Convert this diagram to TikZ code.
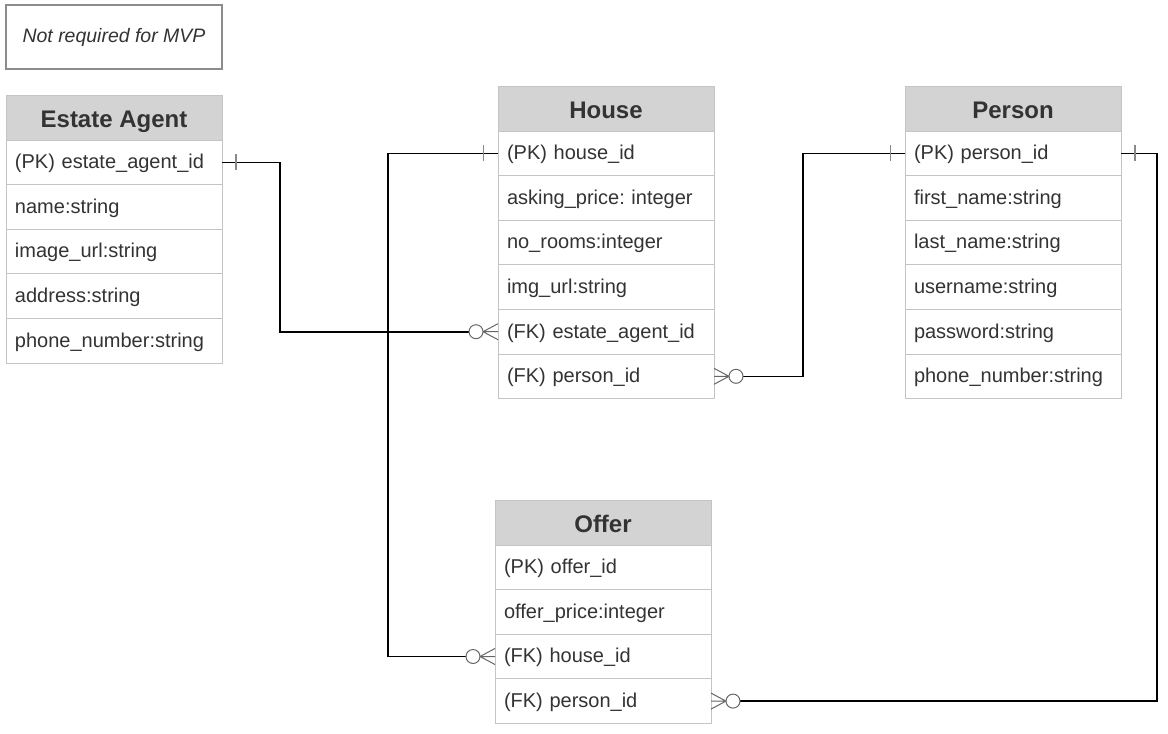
\documentclass[tikz,border=0pt]{standalone}
\usepackage{fontspec}
\setmainfont{Liberation Sans}
\frenchspacing
\definecolor{txt}{HTML}{333333}
\definecolor{hdrfill}{HTML}{D3D3D3}
\definecolor{bdr}{HTML}{C4C4C4}
\definecolor{notebdr}{HTML}{8C8C8C}
\definecolor{footc}{HTML}{666666}
\definecolor{tickc}{HTML}{888888}
\begin{document}
\begin{tikzpicture}[x=0.75pt,y=-0.75pt,
  every node/.style={outer sep=0pt},
  hdr/.style={draw=bdr, fill=hdrfill, line width=0.75pt, minimum width=162pt, minimum height=33.75pt, anchor=north west, font=\fontsize{18}{21}\selectfont\bfseries, text=txt, inner sep=0pt, text height=15pt, text depth=0.6pt},
  row/.style={draw=bdr, fill=white, line width=0.75pt, text width=148.5pt, inner xsep=6.75pt, inner ysep=0pt, minimum height=33.45pt, anchor=north, align=left, font=\fontsize{15}{18}\selectfont, text=txt, text height=11.75pt, text depth=2.25pt},
  note/.style={draw=notebdr, line width=1pt, minimum width=162pt, minimum height=48pt, font=\fontsize{14.6}{18}\selectfont\itshape, text=txt, inner sep=0pt},
  conn/.style={draw=black, line width=1.2pt},
  tickst/.style={draw=tickc, line width=1.1pt},
  foot/.style={draw=footc, line width=0.75pt},
  crowW/.pic={\draw[foot] (-15,0) -- (0,-8) (-15,0) -- (0,0) (-15,0) -- (0,8); \draw[foot] (-22,0) circle[radius=7];},
  crowE/.pic={\draw[foot] (15,0) -- (0,-8) (15,0) -- (0,0) (15,0) -- (0,8); \draw[foot] (22,0) circle[radius=7];}
]
\useasboundingbox (0,0) rectangle (1168,733);

\node[note] (note) at (114,37) {Not required for MVP};

% Estate Agent
\node[hdr] (ea) at (6,95) {Estate Agent};
\node[row] (ea1) at (ea.south) {(PK) estate\_agent\_id};
\node[row] (ea2) at (ea1.south) {name:string};
\node[row] (ea3) at (ea2.south) {image\_url:string};
\node[row] (ea4) at (ea3.south) {address:string};
\node[row] (ea5) at (ea4.south) {phone\_number:string};

% House
\node[hdr] (h) at (498,86) {House};
\node[row] (h1) at (h.south) {(PK) house\_id};
\node[row] (h2) at (h1.south) {asking\_price: integer};
\node[row] (h3) at (h2.south) {no\_rooms:integer};
\node[row] (h4) at (h3.south) {img\_url:string};
\node[row] (h5) at (h4.south) {(FK) estate\_agent\_id};
\node[row] (h6) at (h5.south) {(FK) person\_id};

% Person
\node[hdr] (p) at (905,86) {Person};
\node[row] (p1) at (p.south) {(PK) person\_id};
\node[row] (p2) at (p1.south) {first\_name:string};
\node[row] (p3) at (p2.south) {last\_name:string};
\node[row] (p4) at (p3.south) {username:string};
\node[row] (p5) at (p4.south) {password:string};
\node[row] (p6) at (p5.south) {phone\_number:string};

% Offer
\node[hdr] (o) at (495,500) {Offer};
\node[row] (o1) at (o.south) {(PK) offer\_id};
\node[row] (o2) at (o1.south) {offer\_price:integer};
\node[row] (o3) at (o2.south) {(FK) house\_id};
\node[row] (o4) at (o3.south) {(FK) person\_id};

% connectors
\draw[conn] (ea1.east) -- ++(58,0) |- ([xshift=-21.75pt]h5.west);
\draw[conn] (h1.west) -- ++(-110,0) |- ([xshift=-21.75pt]o3.west);
\draw[conn] (p1.west) -- ++(-102,0) |- ([xshift=21.75pt]h6.east);
\draw[conn] (p1.east) -- ++(36,0) |- ([xshift=21.75pt]o4.east);

% one marks
\draw[tickst] ([xshift=10.5pt]ea1.east) ++(0,-8) -- ++(0,16);
\draw[tickst] ([xshift=-11pt]h1.west) ++(0,-8) -- ++(0,16);
\draw[tickst] ([xshift=-11pt]p1.west) ++(0,-8) -- ++(0,16);
\draw[tickst] ([xshift=10.5pt]p1.east) ++(0,-8) -- ++(0,16);

% many marks
\pic at (h5.west) {crowW};
\pic at (o3.west) {crowW};
\pic at (h6.east) {crowE};
\pic at (o4.east) {crowE};
\end{tikzpicture}
\end{document}
